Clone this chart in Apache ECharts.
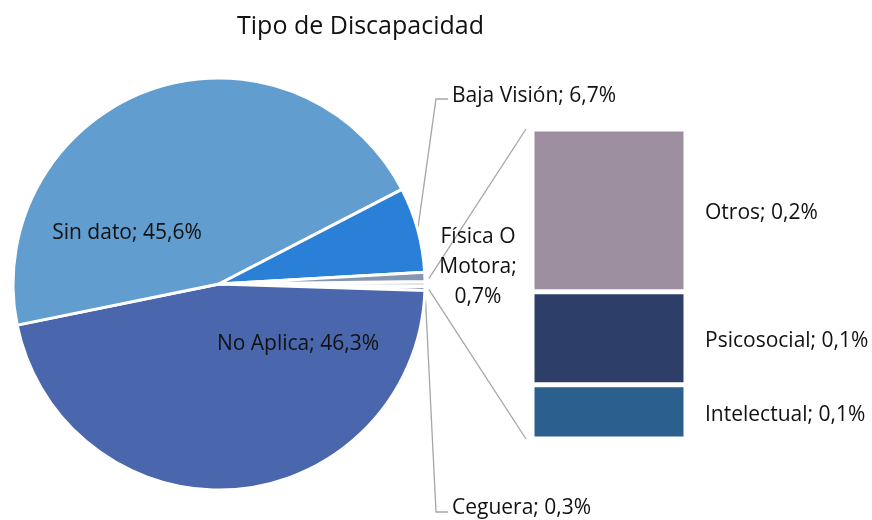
<!DOCTYPE html>
<html>
<head>
<meta charset="utf-8">
<script src="https://cdn.jsdelivr.net/npm/echarts@6/dist/echarts.min.js"></script>
<style>
html, body { margin: 0; padding: 0; background: #fff; }
#chart { width: 872px; height: 520px; }
</style>
</head>
<body>
<div id="chart"></div>
<script>
// datos: sectores del pie (el grupo "Otros" se desglosa en la barra)
var pieNames = ['Ceguera', 'No Aplica', 'Sin dato', 'Baja Visión', 'Física O Motora'];
var pieValues = [0.3, 46.3, 45.6, 6.7, 0.7];
// desglose de la barra
var barNames = ['Otros', 'Psicosocial', 'Intelectual'];
var barValues = [0.21, 0.12, 0.07];

var pieColors = ['#7189bd', '#4a66ac', '#619dcf', '#2a7fd6', '#8496b0'];
var otrosColor = '#d9dfec';
var barColors = ['#9d8fa0', '#2d3e68', '#2b5f8e'];

var font = 'Open Sans';
var textColor = '#111';
var lineColor = '#a6a6a6';

// geometria
var cx = 219, cy = 284, r = 206;
var barLeft = 532, barTop = 129, barWidth = 154, barBottom = 81;

// posiciones de etiquetas
var labelPos = {
	'Sin dato': { x: 127, y: 233, align: 'center' },
	'No Aplica': { x: 298, y: 344, align: 'center' },
	'Física O Motora': { x: 478, y: 267, align: 'center' },
	'Baja Visión': { x: 452, y: 96, align: 'left', line: [436, 99] },
	'Ceguera': { x: 452, y: 508, align: 'left', line: [436, 512] }
};

function sum(arr) {
	return arr.reduce(function (a, b) { return a + b; }, 0);
}
function pct(v) {
	return v.toFixed(1).replace('.', ',') + '%';
}

var otrosTotal = sum(barValues);
var total = sum(pieValues) + otrosTotal;
var halfDeg = otrosTotal / total * 180;

var pieData = [{
	name: 'Otros',
	value: otrosTotal,
	itemStyle: { color: otrosColor },
	label: { show: false },
	labelLine: { show: false }
}];
for (var i = 0; i < pieNames.length; i++) {
	var item = { name: pieNames[i], value: pieValues[i], itemStyle: { color: pieColors[i] } };
	if (pieNames[i] == 'Sin dato' || pieNames[i] == 'No Aplica') {
		item.label = { position: 'inside' };
		item.labelLine = { show: false };
	}
	if (pieNames[i] == 'Física O Motora') {
		item.labelLine = { show: false };
	}
	pieData.push(item);
}

// barra apilada: de abajo hacia arriba
var barSeries = [];
for (var j = barNames.length - 1; j >= 0; j--) {
	barSeries.push({
		name: barNames[j],
		type: 'bar',
		stack: 'otros',
		barWidth: '100%',
		xAxisIndex: 0,
		yAxisIndex: 0,
		data: [barValues[j]],
		itemStyle: { color: barColors[j], borderColor: '#fff', borderWidth: 2.5 },
		label: {
			show: true,
			position: 'right',
			distance: 19,
			offset: [0, 3],
			color: textColor,
			fontFamily: font,
			fontSize: 21,
			formatter: function (p) {
				return p.seriesName + '; ' + pct(p.value);
			}
		}
	});
}

// lineas que unen el sector "Otros" con la barra
var a = halfDeg * Math.PI / 180;
var gridH = 520 - barTop - barBottom;
var connectors = [
	[cx + (r + 4) * Math.cos(a), cy - (r + 4) * Math.sin(a) - 3, barLeft - 6, barTop],
	[cx + (r + 4) * Math.cos(a), cy + (r + 4) * Math.sin(a) + 3, barLeft - 6, barTop + gridH]
].map(function (c) {
	return {
		type: 'line',
		shape: { x1: c[0], y1: c[1], x2: c[2], y2: c[3] },
		style: { stroke: lineColor, lineWidth: 1.3 },
		silent: true
	};
});

var myChart = echarts.init(document.getElementById('chart'));
var option = {
	backgroundColor: '#fff',
	animation: false,
	title: {
		text: 'Tipo de Discapacidad',
		left: 232,
		top: 9,
		textStyle: { fontFamily: font, fontSize: 25, fontWeight: 'normal', color: textColor }
	},
	grid: {
		left: barLeft,
		top: barTop,
		width: barWidth,
		bottom: barBottom
	},
	xAxis: { type: 'category', data: ['Otros'], show: false },
	yAxis: { type: 'value', min: 0, max: otrosTotal, show: false },
	graphic: connectors,
	series: [{
		name: 'Tipo de Discapacidad',
		type: 'pie',
		center: [cx, cy],
		radius: r,
		startAngle: halfDeg,
		clockwise: true,
		avoidLabelOverlap: false,
		itemStyle: { borderColor: '#fff', borderWidth: 3 },
		label: {
			show: true,
			position: 'outside',
			color: textColor,
			fontFamily: font,
			fontSize: 21,
			lineHeight: 30,
			formatter: function (p) {
				if (p.name == 'Física O Motora') {
					return 'Física O\nMotora;\n' + pct(p.value);
				}
				return p.name + '; ' + pct(p.value);
			}
		},
		labelLine: {
			show: true,
			lineStyle: { color: lineColor, width: 1.3 }
		},
		labelLayout: function (p) {
			var name = pieData[p.dataIndex].name;
			var pos = labelPos[name];
			if (!pos) return {};
			var res = { x: pos.x, y: pos.y, align: pos.align, verticalAlign: 'middle' };
			if (pos.line && p.labelLinePoints) {
				var p0 = p.labelLinePoints[0];
				res.labelLinePoints = [p0, [pos.line[0], pos.line[1]], [pos.x - 4, pos.line[1]]];
			}
			return res;
		},
		data: pieData
	}].concat(barSeries)
};
myChart.setOption(option);
</script>
</body>
</html>
